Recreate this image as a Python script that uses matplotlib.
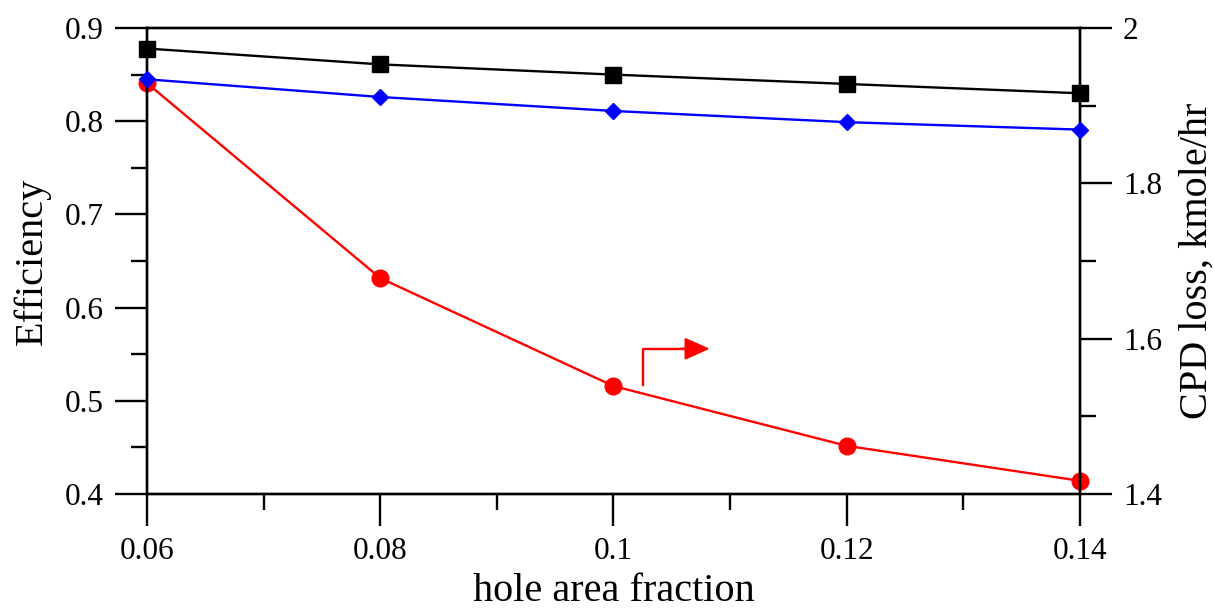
import matplotlib.pyplot as plt
from matplotlib.ticker import MultipleLocator

plt.rcParams['font.family'] = ['Liberation Serif', 'DejaVu Serif']

# data
hole_area = [0.06, 0.08, 0.10, 0.12, 0.14]
eff_black = [0.878, 0.861, 0.850, 0.840, 0.830]
eff_blue = [0.845, 0.826, 0.811, 0.799, 0.791]
cpd_loss = [1.929, 1.678, 1.539, 1.462, 1.417]

x_ticks = [0.06, 0.08, 0.1, 0.12, 0.14]
x_labels = ['0.06', '0.08', '0.1', '0.12', '0.14']
eff_ticks = [0.4, 0.5, 0.6, 0.7, 0.8, 0.9]
eff_labels = ['0.4', '0.5', '0.6', '0.7', '0.8', '0.9']
cpd_ticks = [1.4, 1.6, 1.8, 2.0]
cpd_labels = ['1.4', '1.6', '1.8', '2']

fig = plt.figure(figsize=(12.14, 6.12), dpi=100)
ax = fig.add_axes([0.1211, 0.1928, 0.7685, 0.7614])
ax2 = ax.twinx()
# efficiency curves drawn above the red curve
ax.set_zorder(ax2.get_zorder() + 1)
ax.patch.set_visible(False)

ax.plot(hole_area, eff_black, color='black', lw=1.7, marker='s', ms=12, clip_on=False, zorder=3)
ax.plot(hole_area, eff_blue, color='blue', lw=1.7, marker='D', ms=8.5, clip_on=False, zorder=3)
ax2.plot(hole_area, cpd_loss, color='red', lw=1.7, marker='o', ms=12, clip_on=False)

ax.set_xlim(0.06, 0.14)
ax.set_ylim(0.4, 0.9)
ax2.set_ylim(1.4, 2.0)

ax.set_xticks(x_ticks)
ax.set_xticklabels(x_labels, fontsize=22.5)
ax.set_yticks(eff_ticks)
ax.set_yticklabels(eff_labels, fontsize=22.5)
ax2.set_yticks(cpd_ticks)
ax2.set_yticklabels(cpd_labels, fontsize=22.5)
ax.xaxis.set_minor_locator(MultipleLocator(0.01))
ax.yaxis.set_minor_locator(MultipleLocator(0.05))
ax2.yaxis.set_minor_locator(MultipleLocator(0.1))

for a in (ax, ax2):
    for s in a.spines.values():
        s.set_linewidth(1.7)
    a.tick_params(which='major', direction='out', length=23, width=1.7, pad=8)
    a.tick_params(which='minor', direction='out', length=11.5, width=1.7)
ax.tick_params(axis='x', which='both', top=False)
ax.tick_params(axis='y', right=False, which='both')

ax.set_xlabel('hole area fraction', fontsize=29, labelpad=5)
ax.set_ylabel('Efficiency', fontsize=29, labelpad=10)
ax2.set_ylabel('CPD loss, kmole/hr', fontsize=29, labelpad=12)

# arrow pointing to the right axis
ax2.plot([0.1025, 0.1025, 0.1060], [1.540, 1.587, 1.587], color='red', lw=1.7)
ax2.annotate('', xy=(0.1085, 1.587), xytext=(0.1055, 1.587),
             arrowprops=dict(arrowstyle='-|>,head_length=0.45,head_width=0.2',
                             color='red', lw=1.7, mutation_scale=34))

fig.savefig('out.png', dpi=100)
